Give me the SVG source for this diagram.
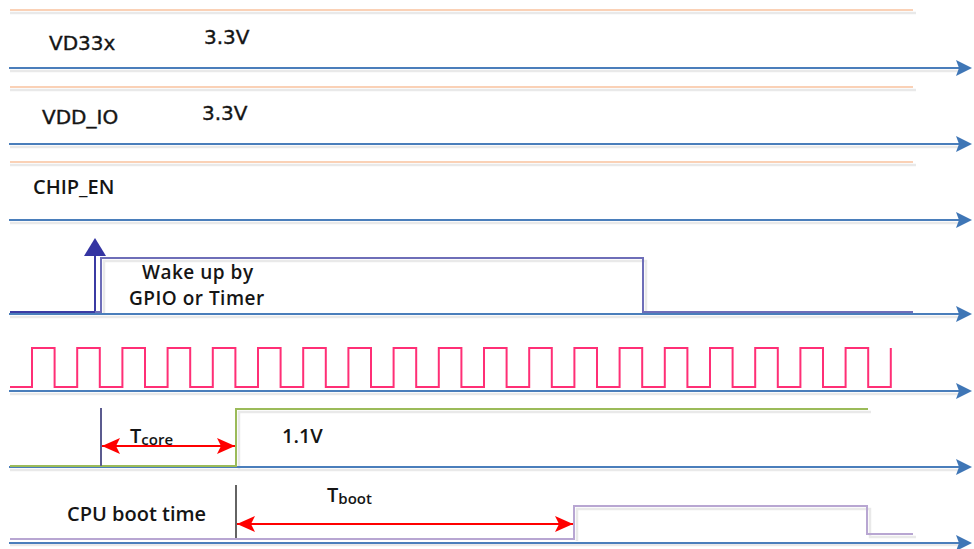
<svg xmlns="http://www.w3.org/2000/svg" width="974" height="549" viewBox="0 0 974 549">
<style>
.bg{fill:#ffffff}
.shadow{fill:none;stroke:#e9e9e9;stroke-width:2.5}
.orange{fill:none;stroke:#f9c29e;stroke-width:1.6}
.axis{fill:none;stroke:#4a7ebb;stroke-width:2.2}
.clk{fill:none;stroke:#ff2f76;stroke-width:2}
.wake{fill:none;stroke:#6e6eb8;stroke-width:2}
.core{fill:none;stroke:#9bbb59;stroke-width:2}
.boot{fill:none;stroke:#b8a6d2;stroke-width:2}
.red{fill:none;stroke:#ff0000;stroke-width:2}
.lbl{font-family:"DejaVu Sans",Verdana,sans-serif;font-size:20px;fill:#151515;stroke:#151515;stroke-width:0.4}
.txt{font-family:"Open Sans","Liberation Sans",sans-serif;font-weight:600;font-size:20px;fill:#151515}
.wk{font-size:19px;letter-spacing:0.5px}
.sub{font-size:15px}
</style>
<defs>
<marker id="ax" markerWidth="18" markerHeight="18" refX="10" refY="9" orient="auto" markerUnits="userSpaceOnUse">
<path d="M0,1 L16,9 L0,17 L3,9 Z" fill="#3f76b6"/>
</marker>
<marker id="rd" markerWidth="20" markerHeight="18" refX="18" refY="9" orient="auto-start-reverse" markerUnits="userSpaceOnUse">
<path d="M0,1 L18,9 L0,17 L4,9 Z" fill="#ff0000"/>
</marker>
</defs>
<rect class="bg" x="0" y="0" width="974" height="549"/>

<g id="shadows">
<path class="shadow" d="M10,13 H916 M10,90 H916 M10,165 H916"/>
<path class="shadow" d="M10,71 H960 M10,147 H960 M10,223 H960 M10,317 H960 M10,394 H960 M10,470 H960 M10,545 H960"/>
<path class="shadow" d="M104,315 V261 H646 V315"/>
<path class="shadow" d="M239,469 V412 H871"/>
<path class="shadow" d="M577,541 V509 H870 V537 H916"/>
</g>

<g id="connectors">
<path class="orange" d="M10,10 H913 M10,87 H913 M10,162 H913"/>
<path class="axis" marker-end="url(#ax)" d="M9,68 H966"/>
<path class="axis" marker-end="url(#ax)" d="M9,144 H966"/>
<path class="axis" marker-end="url(#ax)" d="M9,220 H966"/>
<path class="axis" marker-end="url(#ax)" d="M9,314 H966"/>
<path class="axis" marker-end="url(#ax)" d="M9,391 H966"/>
<path class="axis" marker-end="url(#ax)" d="M9,467 H966"/>
<path class="axis" marker-end="url(#ax)" d="M9,543 H966"/>
</g>

<g id="vd33x">
<text class="lbl" x="49" y="50">VD33x</text>
<text class="lbl" x="204" y="44">3.3V</text>
</g>

<g id="vdd_io">
<text class="lbl" x="42" y="124">VDD_IO</text>
<text class="lbl" x="202" y="120">3.3V</text>
</g>

<g id="chip_en">
<text class="txt" x="33" y="194">CHIP_EN</text>
</g>

<g id="wakeup">
<path fill="none" stroke="#3b3ba3" stroke-width="2" d="M10,312 H95 V254"/>
<path d="M95,238 L106,256 L84,256 Z" fill="#3434a2"/>
<path class="wake" d="M95,312 H101 V258 H643 V312 H913"/>
<text class="txt wk" x="142" y="279">Wake up by</text>
<text class="txt wk" x="129" y="305">GPIO or Timer</text>
</g>

<g id="clock">
<path class="clk" d="M10,387 H32 V348 H54.6 V387 H77.2 V348 H99.8 V387 H122.4 V348 H145 V387 H167.6 V348 H190.2 V387 H212.8 V348 H235.4 V387 H258 V348 H280.6 V387 H303.2 V348 H325.8 V387 H348.4 V348 H371 V387 H393.6 V348 H416.2 V387 H438.8 V348 H461.4 V387 H484 V348 H506.6 V387 H529.2 V348 H551.8 V387 H574.4 V348 H597 V387 H619.6 V348 H642.2 V387 H664.8 V348 H687.4 V387 H710 V348 H732.6 V387 H755.2 V348 H777.8 V387 H800.4 V348 H823 V387 H845.6 V348 H868.2 V387 H890.8 V348"/>
</g>

<g id="core">
<path class="core" d="M10,466 H236 V409 H868"/>
<path fill="none" stroke="#5b5b8f" stroke-width="2" d="M101,408 V466"/>
<path class="red" marker-start="url(#rd)" marker-end="url(#rd)" d="M102,446 H235"/>
<text class="txt" x="130" y="443">T<tspan class="sub" dy="2">core</tspan></text>
<text class="txt" x="282" y="443">1.1V</text>
</g>

<g id="cpu_boot">
<path class="boot" d="M10,539 H574 V506 H867 V534 H913"/>
<path fill="none" stroke="#3d3d3d" stroke-width="1.6" d="M236,485 V538"/>
<path class="red" marker-start="url(#rd)" marker-end="url(#rd)" d="M237,524 H573"/>
<text class="txt" x="67" y="521">CPU boot time</text>
<text class="txt" x="327" y="502">T<tspan class="sub" dy="2">boot</tspan></text>
</g>
</svg>
